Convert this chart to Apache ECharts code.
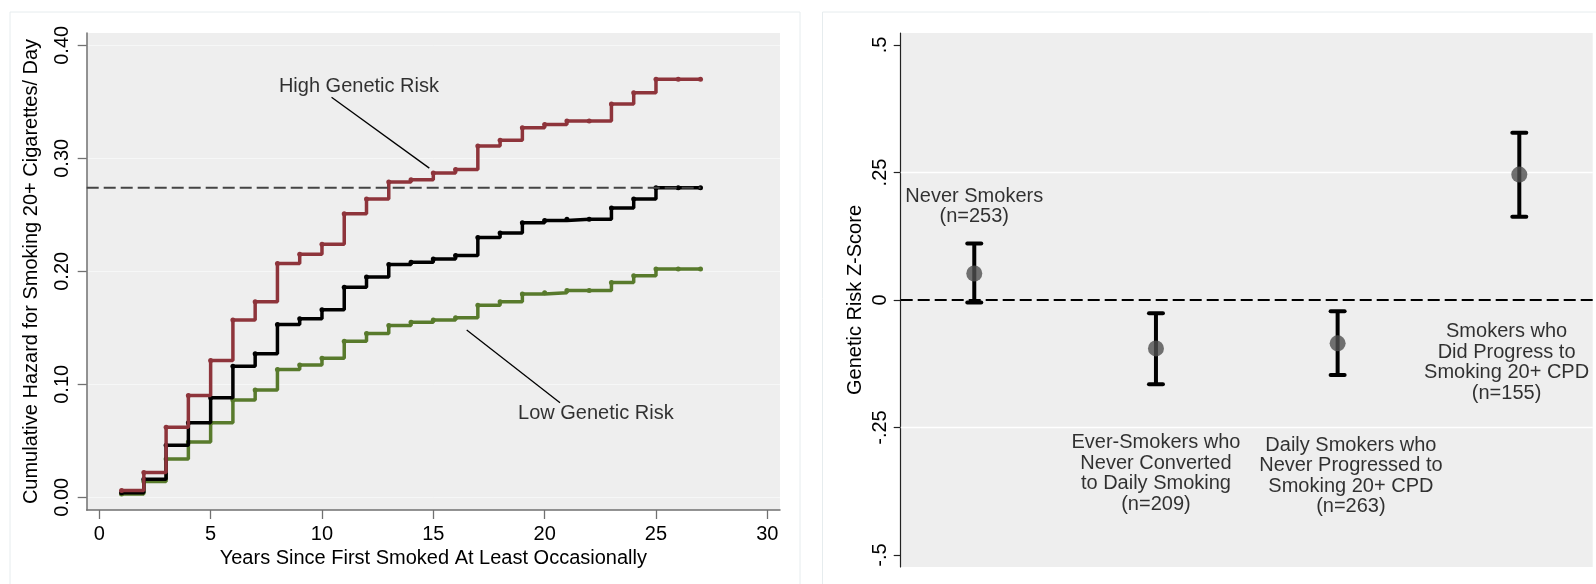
<!DOCTYPE html>
<html>
<head>
<meta charset="utf-8">
<script src="https://cdn.jsdelivr.net/npm/echarts@6/dist/echarts.min.js"></script>
<style>
  html, body { margin: 0; padding: 0; background: #ffffff; }
  #chart { width: 1596px; height: 584px; }
</style>
</head>
<body>
<div id="chart"></div>
<script>
// ---- Cumulative hazard of progressing to 20+ cigarettes/day, by year since first smoking ----
const years = [1, 2, 3, 4, 5, 6, 7, 8, 9, 10, 11, 12, 13, 14, 15, 16, 17, 18, 19, 20, 21, 22, 23, 24, 25, 26, 27];
const hazardHighRisk = [0.006, 0.022, 0.062, 0.090, 0.121, 0.157, 0.173, 0.207, 0.215, 0.224, 0.251, 0.264, 0.279, 0.281, 0.287, 0.290, 0.311, 0.316, 0.327, 0.330, 0.333, 0.333, 0.348, 0.358, 0.370, 0.370, 0.370];
const hazardOverall  = [0.004, 0.016, 0.046, 0.066, 0.088, 0.116, 0.127, 0.153, 0.158, 0.166, 0.186, 0.195, 0.206, 0.208, 0.211, 0.214, 0.230, 0.234, 0.243, 0.245, 0.246, 0.246, 0.256, 0.264, 0.274, 0.274, 0.274];
const hazardLowRisk  = [0.003, 0.014, 0.034, 0.049, 0.066, 0.086, 0.095, 0.113, 0.117, 0.123, 0.138, 0.145, 0.152, 0.155, 0.157, 0.159, 0.170, 0.173, 0.180, 0.181, 0.183, 0.183, 0.190, 0.196, 0.202, 0.202, 0.202];
const yearTicks = [0, 5, 10, 15, 20, 25, 30];
const hazardTicks = [0, 0.1, 0.2, 0.3, 0.4];

// curve captions (data coordinates) and their leader lines
const curveNotes = ['High Genetic Risk', 'Low Genetic Risk'];
const curveNoteAt = [[11.66, 0.3634], [22.3, 0.0743]];
const curveLeaders = [[[10.43, 0.3541], [14.82, 0.2913]], [[16.5, 0.148], [20.69, 0.0837]]];

// ---- Mean genetic risk z-score with 95% CI by smoking trajectory ----
const groupPos = [1, 2, 3, 4];
const groupNames = [
  'Never Smokers',
  'Ever-Smokers who\nNever Converted\nto Daily Smoking',
  'Daily Smokers who\nNever Progressed to\nSmoking 20+ CPD',
  'Smokers who\nDid Progress to\nSmoking 20+ CPD'
];
const groupN = [253, 209, 263, 155];
const zMean = [0.052, -0.095, -0.085, 0.246];
const zLow  = [-0.005, -0.165, -0.147, 0.163];
const zHigh = [0.111, -0.026, -0.022, 0.328];
const groupNoteAt = [[1.0, 0.183], [2.0, -0.3405], [3.073, -0.345], [3.93, -0.1225]];
const zTicks = [-0.5, -0.25, 0, 0.25, 0.5];
const zTickLabels = ['-.5', '-.25', '0', '.25', '.5'];
const zGridAt = [-0.25, 0.25];

const FONT = '"Liberation Sans", Arial, Helvetica, sans-serif';
const INK = '#000000';
const PLOT_BG = '#eeeeee';
const RED = '#8e343b';
const GREEN = '#587a2c';

const pair = (xs, ys) => xs.map((x, i) => [x, ys[i]]);

function stepSeries(name, values, color, z) {
  return {
    name, type: 'line', xAxisIndex: 0, yAxisIndex: 0,
    step: 'end',
    data: pair(years, values),
    symbol: 'circle', symbolSize: 5, showSymbol: true,
    itemStyle: { color },
    lineStyle: { color, width: 3.5 },
    z, silent: true, animation: false
  };
}

const overallEnd = hazardOverall[hazardOverall.length - 1];
const xMinLeft = -0.566;

const chart = echarts.init(document.getElementById('chart'), null, { renderer: 'canvas' });

chart.setOption({
  animation: false,
  backgroundColor: '#ffffff',
  textStyle: { fontFamily: FONT, color: INK },
  graphic: [
    { type: 'rect', shape: { x: 10, y: 12, width: 790, height: 620 }, style: { fill: null, stroke: '#e6ecee', lineWidth: 1 }, silent: true, z: -10 },
    { type: 'rect', shape: { x: 822.5, y: 12, width: 800, height: 620 }, style: { fill: null, stroke: '#e6ecee', lineWidth: 1 }, silent: true, z: -10 }
  ],
  grid: [
    { left: 86.7, top: 33, width: 693.3, height: 477, show: true, backgroundColor: PLOT_BG, borderWidth: 0, outerBoundsMode: 'none' },
    { left: 900.7, top: 33, width: 692, height: 534, show: true, backgroundColor: PLOT_BG, borderWidth: 0, outerBoundsMode: 'none' }
  ],
  xAxis: [
    {
      gridIndex: 0, type: 'value', min: xMinLeft, max: 30.57,
      axisLine: { show: true, onZero: false, lineStyle: { color: '#707070', width: 1.5 } },
      axisTick: { show: true, length: 9, lineStyle: { color: '#707070', width: 1.3 }, customValues: yearTicks },
      axisLabel: { show: true, customValues: yearTicks, margin: 14, fontSize: 20, color: INK, fontFamily: FONT },
      splitLine: { show: false },
      name: 'Years Since First Smoked At Least Occasionally',
      nameLocation: 'middle', nameGap: 38,
      nameTextStyle: { fontSize: 20, color: INK, fontFamily: FONT }
    },
    {
      gridIndex: 1, type: 'value', min: 0.595, max: 4.404,
      axisLine: { show: false }, axisTick: { show: false }, axisLabel: { show: false }, splitLine: { show: false }
    }
  ],
  yAxis: [
    {
      gridIndex: 0, type: 'value', min: -0.01124, max: 0.4109,
      axisLine: { show: true, onZero: false, lineStyle: { color: '#707070', width: 1.5 } },
      axisTick: { show: true, length: 9, lineStyle: { color: '#707070', width: 1.3 }, customValues: hazardTicks },
      axisLabel: {
        show: true, customValues: hazardTicks, rotate: 90, margin: 14, fontSize: 20, color: INK, fontFamily: FONT,
        formatter: v => Number(v).toFixed(2)
      },
      splitLine: { show: true, lineStyle: { color: '#f6f7f7', width: 1 } },
      name: 'Cumulative Hazard for Smoking 20+ Cigarettes/ Day',
      nameLocation: 'middle', nameGap: 45.7,
      nameTextStyle: { fontSize: 20, color: INK, fontFamily: FONT }
    },
    {
      gridIndex: 1, type: 'value', min: -0.5235, max: 0.5235,
      axisLine: { show: true, onZero: false, lineStyle: { color: '#222', width: 1.2 } },
      axisTick: { show: true, length: 7, lineStyle: { color: '#222', width: 1.2 }, customValues: zTicks },
      axisLabel: {
        show: true, customValues: zTicks, rotate: 90, margin: 10.7, fontSize: 20, color: INK, fontFamily: FONT,
        formatter: v => zTickLabels[zTicks.indexOf(Number(v))] ?? String(v)
      },
      splitLine: { show: false },
      name: 'Genetic Risk Z-Score',
      nameLocation: 'middle', nameGap: 35.7,
      nameTextStyle: { fontSize: 20, color: INK, fontFamily: FONT }
    }
  ],
  series: [
    stepSeries('Low Genetic Risk', hazardLowRisk, GREEN, 3),
    stepSeries('Overall', hazardOverall, '#000000', 4),
    stepSeries('High Genetic Risk', hazardHighRisk, RED, 5),
    {
      // dashed reference at the overall cumulative hazard reached by year 27
      name: 'overall-final', type: 'line', xAxisIndex: 0, yAxisIndex: 0,
      data: [[xMinLeft, overallEnd], [years[years.length - 1], overallEnd]],
      showSymbol: false, symbol: 'none',
      lineStyle: { color: '#444', width: 2, type: [12, 5] },
      z: 6, silent: true
    },
    {
      // leader lines from captions to curves
      name: 'leaders', type: 'lines', coordinateSystem: 'cartesian2d', xAxisIndex: 0, yAxisIndex: 0,
      data: curveLeaders.map(c => ({ coords: c })),
      lineStyle: { color: INK, width: 1.3, opacity: 1 },
      symbol: 'none', z: 7, silent: true
    },
    {
      name: 'captions', type: 'scatter', xAxisIndex: 0, yAxisIndex: 0,
      data: curveNoteAt.map((p, i) => ({ value: p, name: curveNotes[i] })),
      symbolSize: 0, z: 8, silent: true,
      label: {
        show: true, position: 'inside', formatter: p => p.name,
        fontSize: 20, color: INK, fontFamily: FONT
      }
    },
    {
      // 95% confidence intervals
      name: 'ci', type: 'custom', xAxisIndex: 1, yAxisIndex: 1,
      data: groupPos.map((x, i) => [x, zLow[i], zHigh[i]]),
      renderItem: (params, api) => {
        const x = api.value(0);
        const lo = api.coord([x, api.value(1)]);
        const hi = api.coord([x, api.value(2)]);
        const half = 7;
        const st = { stroke: '#000', lineWidth: 4, lineCap: 'round' };
        return {
          type: 'group',
          children: [
            { type: 'line', shape: { x1: lo[0], y1: lo[1], x2: hi[0], y2: hi[1] }, style: { stroke: '#000', lineWidth: 4 } },
            { type: 'line', shape: { x1: hi[0] - half, y1: hi[1], x2: hi[0] + half, y2: hi[1] }, style: st },
            { type: 'line', shape: { x1: lo[0] - half, y1: lo[1], x2: lo[0] + half, y2: lo[1] }, style: st }
          ]
        };
      },
      z: 5, silent: true
    },
    {
      name: 'mean', type: 'scatter', xAxisIndex: 1, yAxisIndex: 1,
      data: pair(groupPos, zMean),
      symbol: 'circle', symbolSize: 16,
      itemStyle: { color: '#4f4f4f' },
      z: 6, silent: true,
      markLine: {
        silent: true, symbol: 'none',
        lineStyle: { color: '#000', width: 2, type: [12, 5] },
        label: { show: false },
        data: [{ yAxis: 0 }]
      }
    },
    {
      // interior white grid lines of the z-score panel
      name: 'z-grid', type: 'line', xAxisIndex: 1, yAxisIndex: 1,
      data: [], silent: true, z: 1,
      markLine: {
        silent: true, symbol: 'none',
        lineStyle: { color: '#ffffff', width: 1.3, type: 'solid' },
        label: { show: false },
        data: zGridAt.map(v => ({ yAxis: v }))
      }
    },
    {
      name: 'group-notes', type: 'scatter', xAxisIndex: 1, yAxisIndex: 1,
      data: groupNoteAt.map((p, i) => ({ value: p, name: groupNames[i] + '\n(n=' + groupN[i] + ')' })),
      symbolSize: 0, z: 8, silent: true,
      label: {
        show: true, position: 'inside', formatter: p => p.name, align: 'center',
        fontSize: 20, lineHeight: 20.5, color: INK, fontFamily: FONT
      }
    }
  ]
});
</script>
</body>
</html>
